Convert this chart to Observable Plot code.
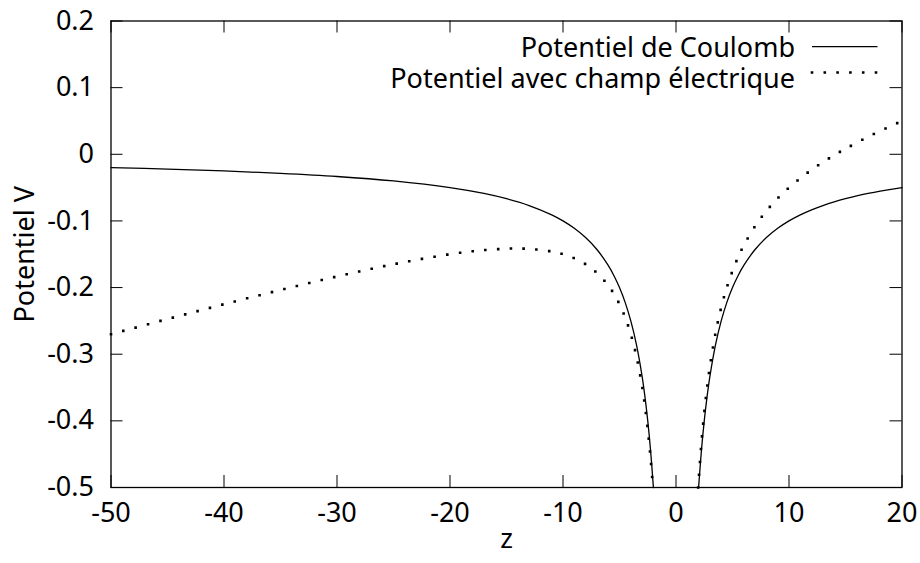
<!DOCTYPE html>
<html>
<head>
<meta charset="utf-8">
<script src="https://cdn.jsdelivr.net/npm/d3@7"></script>
<script src="https://cdn.jsdelivr.net/npm/@observablehq/plot@0.6"></script>
<style>
  html, body { margin: 0; padding: 0; background: #fff; }
  #chart svg { display: block; }
</style>
</head>
<body>
<div id="chart"></div>
<script>
// Coulomb potential, left and right branches
const coulombZLeft  = [-50, -45, -40, -35, -30, -25, -20, -17, -15, -13, -11, -10, -9, -8, -7, -6, -5.5, -5, -4.5, -4, -3.5, -3, -2.75, -2.5, -2.25, -2];
const coulombVLeft  = [-0.02, -0.0222, -0.025, -0.0286, -0.0333, -0.04, -0.05, -0.0588, -0.0667, -0.0769, -0.0909, -0.1, -0.1111, -0.125, -0.1429, -0.1667, -0.1818, -0.2, -0.2222, -0.25, -0.2857, -0.3333, -0.3636, -0.4, -0.4444, -0.5];
const coulombZRight = [2, 2.25, 2.5, 2.75, 3, 3.5, 4, 4.5, 5, 5.5, 6, 7, 8, 9, 10, 11, 12, 13, 14, 15, 17, 20];
const coulombVRight = [-0.5, -0.4444, -0.4, -0.3636, -0.3333, -0.2857, -0.25, -0.2222, -0.2, -0.1818, -0.1667, -0.1429, -0.125, -0.1111, -0.1, -0.0909, -0.0833, -0.0769, -0.0714, -0.0667, -0.0588, -0.05];

// Potential with electric field, left and right branches
const fieldZLeft  = [-50, -45, -40, -35, -30, -25, -20, -17, -15, -14, -13, -11, -10, -9, -8, -7, -6, -5.5, -5, -4.5, -4, -3.5, -3, -2.75, -2.5, -2.25, -2.04];
const fieldVLeft  = [-0.27, -0.2472, -0.225, -0.2036, -0.1833, -0.165, -0.15, -0.1438, -0.1417, -0.1414, -0.1419, -0.1459, -0.15, -0.1561, -0.165, -0.1779, -0.1967, -0.2093, -0.225, -0.2447, -0.27, -0.3032, -0.3483, -0.3774, -0.4125, -0.4557, -0.5];
const fieldZRight = [1.96, 2, 2.25, 2.5, 2.75, 3, 3.5, 4, 4.5, 5, 5.5, 6, 7, 8, 9, 10, 11, 12, 13, 14, 15, 17, 20];
const fieldVRight = [-0.5, -0.49, -0.4332, -0.3875, -0.3499, -0.3183, -0.2682, -0.23, -0.1997, -0.175, -0.1543, -0.1367, -0.1079, -0.085, -0.0661, -0.05, -0.0359, -0.0233, -0.0119, -0.0014, 0.0083, 0.0262, 0.05];

// Axes
const xTicks = [-50, -40, -30, -20, -10, 0, 10, 20];
const yTicks = [0.2, 0.1, 0, -0.1, -0.2, -0.3, -0.4, -0.5];
const xLabel = "z";
const yLabel = "Potentiel V";
const seriesNames = ["Potentiel de Coulomb", "Potentiel avec champ électrique"];

const pts = (zs, vs) => zs.map((z, i) => ({z, v: vs[i]}));
const coulombL = pts(coulombZLeft, coulombVLeft);
const coulombR = pts(coulombZRight, coulombVRight);
const fieldL = pts(fieldZLeft, fieldVLeft);
const fieldR = pts(fieldZRight, fieldVRight);

const W = 920, H = 563;
const mL = 110.5, mR = 18.5, mT = 20.5, mB = 76;
const innerH = H - mT - mB, innerW = W - mL - mR;
const tk = 12;
const FONT = "'Noto Sans', sans-serif";
const FS = 27;
const DOTS = "0,12.8";

const solid = {x: "z", y: "v", stroke: "#000", strokeWidth: 1.3, curve: "catmull-rom"};
const dotted = {x: "z", y: "v", stroke: "#000", strokeWidth: 2.6, strokeDasharray: DOTS, strokeLinecap: "square", curve: "catmull-rom"};

const plot = Plot.plot({
  width: W, height: H,
  marginLeft: mL, marginRight: mR, marginTop: mT, marginBottom: mB,
  style: {fontFamily: FONT, fontSize: FS + "px", color: "#000", background: "#fff"},
  x: {domain: [-50, 20], ticks: xTicks},
  y: {domain: [-0.5, 0.2], ticks: yTicks},
  marks: [
    Plot.line(coulombL, solid),
    Plot.line(coulombR, solid),
    Plot.line(fieldL, dotted),
    Plot.line(fieldR, dotted),
    // inward ticks, mirrored on the top and right
    Plot.tickX(xTicks, {x: d => d, stroke: "#000", strokeWidth: 1, insetTop: innerH - tk}),
    Plot.tickX(xTicks, {x: d => d, stroke: "#000", strokeWidth: 1, insetBottom: innerH - tk}),
    Plot.tickY(yTicks, {y: d => d, stroke: "#000", strokeWidth: 1, insetRight: innerW - tk}),
    Plot.tickY(yTicks, {y: d => d, stroke: "#000", strokeWidth: 1, insetLeft: innerW - tk}),
    Plot.frame({stroke: "#000", strokeWidth: 1.3}),
    Plot.axisX({ticks: xTicks, tickSize: 0, tickPadding: 15, tickFormat: d => String(d), label: null, fontSize: FS, fontFamily: FONT}),
    Plot.axisY({ticks: yTicks, tickSize: 0, tickPadding: 17, tickFormat: d => String(d), label: null, fontSize: FS, fontFamily: FONT}),
    Plot.text([xLabel], {text: d => d, frameAnchor: "bottom", dy: 60, fontSize: FS, fontFamily: FONT, fill: "#000"}),
    Plot.text([yLabel], {text: d => d, frameAnchor: "left", textAnchor: "middle", lineAnchor: "middle", dx: -86, rotate: -90, fontSize: FS, fontFamily: FONT, fill: "#000"})
  ]
});

document.getElementById("chart").appendChild(plot);

// Legend, top-right inside the frame
const svg = d3.select(plot);
const right = W - mR;
const rows = [{name: seriesNames[0], base: 56.7, ly: 46.7, dash: null, w: 1.3},
              {name: seriesNames[1], base: 88.3, ly: 72.5, dash: DOTS, w: 2.6}];
const g = svg.append("g");
rows.forEach(r => {
  g.append("text").attr("x", right - 106.5).attr("y", r.base)
    .attr("text-anchor", "end").style("font-family", FONT).style("font-size", FS + "px")
    .attr("fill", "#000").text(r.name);
  const ln = g.append("line").attr("x1", right - 89.5).attr("x2", right - 24)
    .attr("y1", r.ly).attr("y2", r.ly).attr("stroke", "#000").attr("stroke-width", r.w);
  if (r.dash) ln.attr("stroke-dasharray", r.dash).attr("stroke-linecap", "square");
});
</script>
</body>
</html>
